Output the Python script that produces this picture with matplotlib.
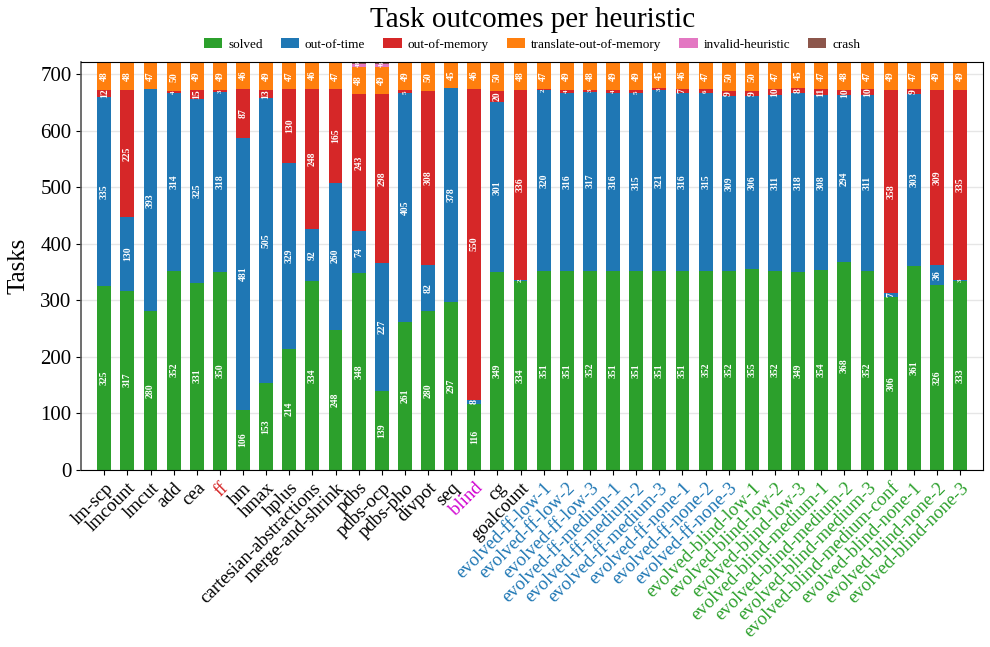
import numpy as np
import matplotlib.pyplot as plt

plt.rcParams['font.family'] = ['Liberation Serif', 'DejaVu Serif']

heuristics = ['lm-scp', 'lmcount', 'lmcut', 'add', 'cea', 'ff', 'hm', 'hmax', 'hplus',
              'cartesian-abstractions', 'merge-and-shrink', 'pdbs', 'pdbs-ocp', 'pdbs-pho',
              'divpot', 'seq', 'blind', 'cg', 'goalcount',
              'evolved-ff-low-1', 'evolved-ff-low-2', 'evolved-ff-low-3',
              'evolved-ff-medium-1', 'evolved-ff-medium-2', 'evolved-ff-medium-3',
              'evolved-ff-none-1', 'evolved-ff-none-2', 'evolved-ff-none-3',
              'evolved-blind-low-1', 'evolved-blind-low-2', 'evolved-blind-low-3',
              'evolved-blind-medium-1', 'evolved-blind-medium-2', 'evolved-blind-medium-3',
              'evolved-blind-medium-conf', 'evolved-blind-none-1', 'evolved-blind-none-2',
              'evolved-blind-none-3']

solved = [325, 317, 280, 352, 331, 350, 106, 153, 214, 334, 248, 348, 139, 261, 280, 297, 116, 349, 334,
          351, 351, 352, 351, 351, 351, 351, 352, 352,
          355, 352, 349, 354, 368, 352, 306, 361, 326, 333]
out_of_time = [335, 130, 393, 314, 325, 318, 481, 505, 329, 92, 260, 74, 227, 405, 82, 378, 8, 301, 2,
               320, 316, 317, 316, 315, 321, 316, 315, 309,
               306, 311, 318, 308, 294, 311, 7, 303, 36, 3]
out_of_memory = [12, 225, 0, 4, 15, 3, 87, 13, 130, 248, 165, 243, 298, 5, 308, 0, 550, 20, 336,
                 2, 4, 3, 4, 5, 3, 7, 6, 9,
                 9, 10, 8, 11, 10, 10, 358, 9, 309, 335]
translate_oom = [48, 48, 47, 50, 49, 49, 46, 49, 47, 46, 47, 48, 49, 49, 50, 45, 46, 50, 48,
                 47, 49, 48, 49, 49, 45, 46, 47, 50,
                 50, 47, 45, 47, 48, 47, 49, 47, 49, 49]
invalid = [0] * 11 + [4, 4] + [0] * 25
crash = [0] * 11 + [3, 3] + [0] * 25

series = [('solved', solved, '#2ca02c'),
          ('out-of-time', out_of_time, '#1f77b4'),
          ('out-of-memory', out_of_memory, '#d62728'),
          ('translate-out-of-memory', translate_oom, '#ff7f0e'),
          ('invalid-heuristic', invalid, '#e377c2'),
          ('crash', crash, '#8c564b')]

fig = plt.figure(figsize=(9.9, 6.47), dpi=100)
ax = fig.add_axes([0.082, 0.274, 0.911, 0.63])

x = np.arange(len(heuristics))
bottom = np.zeros(len(heuristics))
for name, vals, col in series:
    vals = np.array(vals, dtype=float)
    ax.bar(x, vals, 0.6, bottom=bottom, color=col, label=name, zorder=2)
    for i, v in enumerate(vals):
        if v > 0:
            ax.text(x[i], bottom[i] + v / 2, str(int(v)), rotation=90, ha='center', va='center',
                    color='white', fontsize=7 if v > 6 else 5, fontweight='bold', zorder=3)
    bottom += vals

ax.set_xlim(-1, len(heuristics))
ax.set_ylim(0, 721)
ax.set_yticks(range(0, 701, 100))
ax.yaxis.grid(True, color='#e6e6e6', linewidth=1, zorder=0)
ax.tick_params(axis='y', labelsize=15)
ax.set_ylabel('Tasks', fontsize=18, labelpad=8)
ax.set_xticks(x)
ax.set_xticklabels(heuristics, rotation=45, ha='right', rotation_mode='anchor', fontsize=13.5)
for lab in ax.get_xticklabels():
    t = lab.get_text()
    if t == 'ff':
        lab.set_color('#d62728')
    elif t == 'blind':
        lab.set_color('#d000d0')
    elif t.startswith('evolved-ff'):
        lab.set_color('#1f77b4')
    elif t.startswith('evolved-blind'):
        lab.set_color('#2ca02c')
ax.spines['left'].set_color('#555555')
ax.spines['left'].set_linewidth(1.2)

ax.set_title('Task outcomes per heuristic', fontsize=21, pad=25)
ax.legend(loc='lower center', bbox_to_anchor=(0.5, 1.005), ncol=6, frameon=False, fontsize=9.5,
          handlelength=1.4, handleheight=0.8, columnspacing=1.35, handletextpad=0.45, borderpad=0.2)

fig.savefig('out.png', dpi=100)
